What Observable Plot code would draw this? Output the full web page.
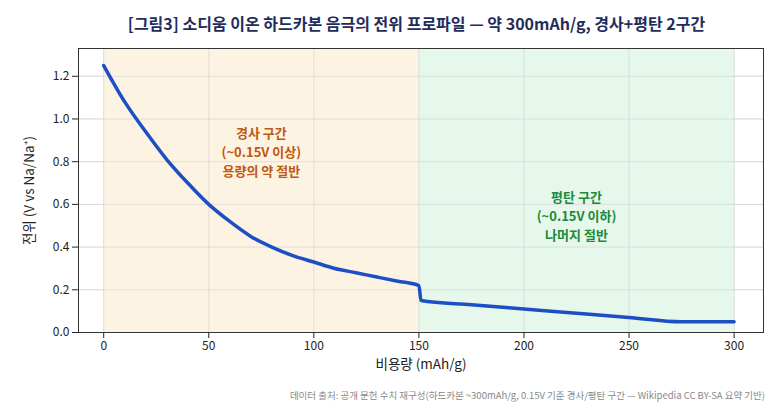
<!DOCTYPE html>
<html><head><meta charset="utf-8">
<script src="https://cdn.jsdelivr.net/npm/d3@7"></script>
<script src="https://cdn.jsdelivr.net/npm/@observablehq/plot@0.6"></script>
<style>
body{margin:0;background:#fff;font-family:"Noto Sans CJK KR","Noto Sans",sans-serif;}
#t{height:40px;line-height:46px;text-align:center;font-size:16px;font-weight:bold;color:#1f2d5c;padding-left:60px;box-sizing:border-box}
#c{font-size:9.5px;color:#888;text-align:right;padding-right:8px;margin-top:16px}
</style></head><body>
<div id="t">[그림3] 소디움 이온 하드카본 음극의 전위 프로파일 — 약 300mAh/g, 경사+평탄 2구간</div>
<div id="p"></div>
<div id="c">데이터 출처: 공개 문헌 수치 재구성(하드카본 ~300mAh/g, 0.15V 기준 경사/평탄 구간 — Wikipedia CC BY-SA 요약 기반)</div>
<script>
const capacity = [0,10,20,30,40,50,60,70,80,90,100,110,120,130,140,150,151,175,200,225,250,275,300];
const voltage  = [1.25,1.08,0.94,0.81,0.70,0.60,0.52,0.45,0.40,0.36,0.33,0.30,0.28,0.26,0.24,0.22,0.15,0.13,0.11,0.09,0.07,0.05,0.05];
const regions = [{x1:0,x2:150,fill:"#fdf3e3"},{x1:150,x2:300,fill:"#e6f7ec"}];
const labels = [
 {x:75,y:0.85,text:"경사 구간\n(~0.15V 이상)\n용량의 약 절반",color:"#c0580e"},
 {x:225,y:0.55,text:"평탄 구간\n(~0.15V 이하)\n나머지 절반",color:"#1b8a3c"}];
const data = capacity.map((c,i)=>({c,v:voltage[i]}));
const chart = Plot.plot({
  width:773,height:332,marginLeft:78,marginRight:10,marginTop:8,marginBottom:40,
  style:{fontFamily:"Noto Sans CJK KR",fontSize:"12px",color:"#222"},
  x:{domain:[-12,314],ticks:[0,50,100,150,200,250,300],label:"비용량 (mAh/g)",labelAnchor:"center",labelArrow:"none",labelOffset:36,grid:true},
  y:{domain:[0,1.33],ticks:[0,0.2,0.4,0.6,0.8,1.0,1.2],tickFormat:d3.format(".1f"),label:"전위 (V vs Na/Na⁺)",labelAnchor:"center",labelArrow:"none",labelOffset:54,grid:true},
  marks:[
    Plot.rectX(regions,{x1:"x1",x2:"x2",y1:0,y2:1.33,fill:"fill"}),
    Plot.gridX([0,50,100,150,200,250,300],{stroke:"#ccc",strokeOpacity:0.5}),
    Plot.gridY([0.2,0.4,0.6,0.8,1.0,1.2],{stroke:"#ccc",strokeOpacity:0.5}),
    Plot.line(data,{x:"c",y:"v",stroke:"#1d4fc4",strokeWidth:3.5,curve:"monotone-x"}),
    Plot.text(labels,{x:"x",y:"y",text:"text",fill:"color",fontSize:13,fontWeight:"bold",lineHeight:1.45}),
    Plot.frame({stroke:"#333"})
  ]
});
chart.querySelectorAll('[aria-label="y-axis label"] text, [aria-label="x-axis label"] text').forEach(t=>t.style.fontSize="13.5px");
document.getElementById("p").appendChild(chart);
</script></body></html>
